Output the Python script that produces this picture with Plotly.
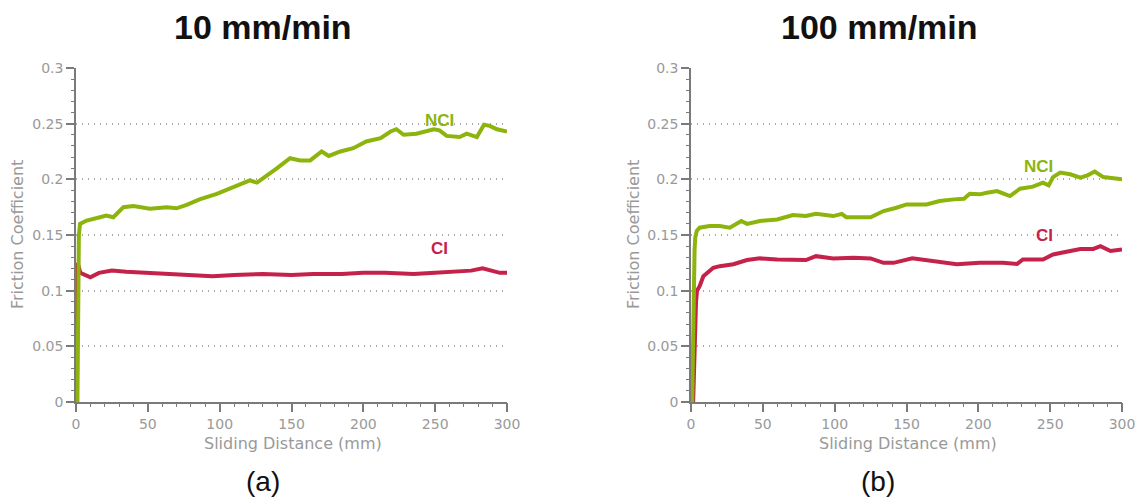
import plotly.graph_objects as go

# ---- data ----
# (a) 10 mm/min
a_nci_x = [1.0, 1.5, 2.0, 2.8, 7.4, 16.7, 21, 26, 33, 40, 51.5, 63, 70, 77, 86, 98, 110, 121, 126, 133,
           140, 149, 156, 163, 171, 176, 184, 193, 202, 212, 219, 223, 228, 237, 249, 253, 258, 267,
           272, 279, 284, 288, 293, 300]
a_nci_y = [0.0, 0.08, 0.15, 0.160, 0.163, 0.166, 0.1675, 0.166, 0.175, 0.176, 0.1735, 0.175, 0.174, 0.177,
           0.182, 0.187, 0.193, 0.199, 0.197, 0.203, 0.210, 0.219, 0.217, 0.217, 0.225, 0.221, 0.225,
           0.228, 0.234, 0.237, 0.243, 0.245, 0.240, 0.241, 0.245, 0.244, 0.239, 0.238, 0.241, 0.238,
           0.249, 0.248, 0.245, 0.243]
a_ci_x = [0.5, 0.8, 1.2, 3, 6, 10, 16, 25, 35, 50, 62, 75, 85, 95, 110, 130, 150, 165, 185, 200, 215,
          235, 250, 262, 275, 283, 290, 295, 300]
a_ci_y = [0.0, 0.09, 0.125, 0.116, 0.114, 0.112, 0.116, 0.118, 0.117, 0.116, 0.115, 0.115, 0.114, 0.113,
          0.114, 0.115, 0.114, 0.115, 0.115, 0.116, 0.116, 0.115, 0.116, 0.117, 0.118, 0.120, 0.118,
          0.116, 0.116]

# (b) 100 mm/min
b_nci_x = [0.8, 1.5, 2.5, 3.0, 4, 6, 13, 20, 27, 35, 39, 48, 60, 71, 80, 87, 99, 105, 108, 125, 134,
           143, 150, 164, 173, 183, 190, 194, 201, 206, 213, 222, 229, 238, 245, 249, 252, 257, 264,
           271, 276, 281, 287, 300]
b_nci_y = [0.0, 0.07, 0.137, 0.148, 0.1536, 0.1566, 0.158, 0.158, 0.1566, 0.1626, 0.160, 0.1626, 0.164,
           0.168, 0.167, 0.169, 0.167, 0.169, 0.166, 0.166, 0.1715, 0.1745, 0.1775, 0.1775, 0.1805,
           0.182, 0.1826, 0.187, 0.1865, 0.188, 0.1895, 0.185, 0.1916, 0.1934, 0.197, 0.1946, 0.202,
           0.206, 0.2045, 0.2015, 0.2036, 0.207, 0.202, 0.200]
b_ci_x = [1.5, 2.5, 3.5, 4.2, 6, 8.6, 12, 15.5, 20, 29.5, 39, 48, 60, 71, 80, 87, 99, 113, 125, 134,
          141, 154, 164, 178, 185, 201, 217, 227, 231, 245, 252, 264, 271, 280, 285, 292, 300]
b_ci_y = [0.0, 0.05, 0.09, 0.100, 0.104, 0.113, 0.117, 0.1206, 0.122, 0.1237, 0.1275, 0.129, 0.128,
          0.128, 0.1275, 0.131, 0.129, 0.1295, 0.129, 0.125, 0.125, 0.129, 0.1275, 0.125, 0.1237,
          0.125, 0.125, 0.124, 0.128, 0.128, 0.1325, 0.1356, 0.1375, 0.1375, 0.140, 0.1356, 0.137]

titles = ["10 mm/min", "100 mm/min"]
panel_labels = ["(a)", "(b)"]
x_title = "Sliding Distance (mm)"
y_title = "Friction Coefficient"

GREEN = "#8db40c"
RED = "#c5224a"
GRAY = "#7a7a7a"
TICKGRAY = "#999999"
W, H = 1142, 499

fig = go.Figure()
fig.add_trace(go.Scatter(x=a_ci_x, y=a_ci_y, mode="lines", line=dict(color=RED, width=4),
                         xaxis="x", yaxis="y", showlegend=False))
fig.add_trace(go.Scatter(x=a_nci_x, y=a_nci_y, mode="lines", line=dict(color=GREEN, width=4),
                         xaxis="x", yaxis="y", showlegend=False))
fig.add_trace(go.Scatter(x=b_ci_x, y=b_ci_y, mode="lines", line=dict(color=RED, width=4),
                         xaxis="x2", yaxis="y2", showlegend=False))
fig.add_trace(go.Scatter(x=b_nci_x, y=b_nci_y, mode="lines", line=dict(color=GREEN, width=4),
                         xaxis="x2", yaxis="y2", showlegend=False))
# invisible traces so the minor-tick overlay axes are drawn
fig.add_trace(go.Scatter(x=[None], y=[None], xaxis="x3", yaxis="y3", showlegend=False, hoverinfo="skip"))
fig.add_trace(go.Scatter(x=[None], y=[None], xaxis="x4", yaxis="y4", showlegend=False, hoverinfo="skip"))

font_family = "DejaVu Sans"
ydom = [97 / H, 431 / H]
doms = [[76 / W, 507 / W], [691 / W, 1122 / W]]


def xaxis(dom, anchor):
    return dict(domain=dom, anchor=anchor, range=[0, 300], tickmode="linear", tick0=0, dtick=50,
                showgrid=False, zeroline=False, automargin=False,
                showline=True, linecolor=GRAY, linewidth=1.5, ticks="outside", ticklen=8,
                tickcolor=GRAY, tickwidth=1.5,
                tickfont=dict(family=font_family, size=14, color=TICKGRAY))


def yaxis(anchor):
    return dict(domain=ydom, anchor=anchor, range=[0, 0.3], tickmode="linear", tick0=0, dtick=0.05,
                showgrid=True, automargin=False,
                gridcolor="#a8a8a8", griddash="1px,5px", gridwidth=1.5, zeroline=False,
                showline=True, linecolor=GRAY, linewidth=1.5, ticks="outside", ticklen=8,
                tickcolor=GRAY, tickwidth=1.5,
                tickfont=dict(family=font_family, size=14, color=TICKGRAY))


def xminor(dom, anchor, over):
    return dict(domain=dom, anchor=anchor, overlaying=over, range=[0, 300], tickmode="linear",
                tick0=0, dtick=10, showgrid=False, zeroline=False, automargin=False,
                showline=False, ticks="outside", ticklen=4, tickcolor=GRAY, tickwidth=1.3,
                showticklabels=False, side="bottom")


def yminor(anchor, over):
    return dict(domain=ydom, anchor=anchor, overlaying=over, range=[0, 0.3], tickmode="linear",
                tick0=0, dtick=0.01, showgrid=False, zeroline=False, automargin=False,
                showline=False, ticks="outside", ticklen=4, tickcolor=GRAY, tickwidth=1.3,
                showticklabels=False, side="left")


ann = []
for i in range(2):
    ann.append(dict(text="<b>%s</b>" % titles[i], x=[263, 880][i] / W, y=1 - 27 / H, xref="paper",
                    yref="paper", showarrow=False, xanchor="center", yanchor="middle",
                    font=dict(family="Liberation Sans", size=34, color="#111111")))
    ann.append(dict(text=panel_labels[i], x=[263, 878][i] / W, y=1 - 481 / H, xref="paper",
                    yref="paper", showarrow=False, xanchor="center", yanchor="middle",
                    font=dict(family="Liberation Sans", size=28, color="#111111")))
    ann.append(dict(text=x_title, x=[293, 908][i] / W, y=1 - 443 / H, xref="paper", yref="paper",
                    showarrow=False, xanchor="center", yanchor="middle",
                    font=dict(family=font_family, size=16, color=TICKGRAY)))
    ann.append(dict(text=y_title, x=[17, 633][i] / W, y=1 - 235 / H, xref="paper", yref="paper",
                    showarrow=False, xanchor="center", yanchor="middle", textangle=-90,
                    font=dict(family=font_family, size=16, color=TICKGRAY)))

ann.append(dict(text="<b>NCI</b>", x=440 / W, y=1 - 109 / H, xref="paper", yref="paper", showarrow=False,
                font=dict(family="Liberation Sans", size=17, color=GREEN)))
ann.append(dict(text="<b>CI</b>", x=440 / W, y=1 - 248 / H, xref="paper", yref="paper", showarrow=False,
                font=dict(family="Liberation Sans", size=17, color=RED)))
ann.append(dict(text="<b>NCI</b>", x=1055 / W, y=1 - 155 / H, xref="paper", yref="paper", showarrow=False,
                font=dict(family="Liberation Sans", size=17, color=GREEN)))
ann.append(dict(text="<b>CI</b>", x=1055 / W, y=1 - 235 / H, xref="paper", yref="paper", showarrow=False,
                font=dict(family="Liberation Sans", size=17, color=RED)))

fig.update_layout(
    width=W, height=H, margin=dict(l=0, r=0, t=0, b=0, autoexpand=False),
    paper_bgcolor="white", plot_bgcolor="white",
    xaxis=xaxis(doms[0], "y"), yaxis=yaxis("x"),
    xaxis2=xaxis(doms[1], "y2"), yaxis2=yaxis("x2"),
    xaxis3=xminor(doms[0], "y3", "x"), yaxis3=yminor("x3", "y"),
    xaxis4=xminor(doms[1], "y4", "x2"), yaxis4=yminor("x4", "y2"),
    annotations=ann, showlegend=False,
)

fig.write_html("out.html", config={"displayModeBar": False},
               post_script="document.body.style.margin='0px';document.body.style.overflow='hidden';")
